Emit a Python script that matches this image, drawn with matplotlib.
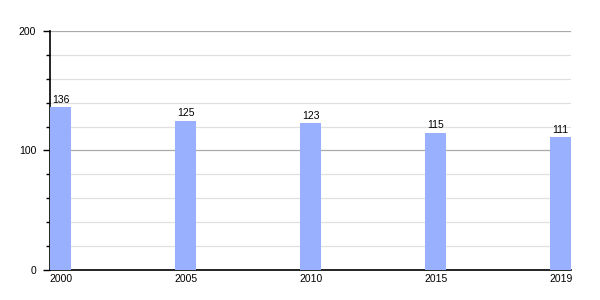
import matplotlib.pyplot as plt
from matplotlib.ticker import MultipleLocator

years = ['2000', '2005', '2010', '2015', '2019']
values = [136, 125, 123, 115, 111]

plt.rcParams['font.family'] = ['Liberation Sans', 'DejaVu Sans']

fig = plt.figure(figsize=(6, 3), dpi=100)
ax = fig.add_axes([0.0833, 0.1, 0.869, 0.7967])

pos = list(range(len(years)))
ax.bar(pos, values, width=0.17, color='#99b0ff', zorder=3)
for x, v in zip(pos, values):
    ax.text(x, v + 2, str(v), ha='center', va='bottom', fontsize=7.5, zorder=4)

ax.set_xlim(-0.085, len(years) - 1 + 0.085)
ax.set_ylim(0, 200)
ax.set_xticks(pos)
ax.set_xticklabels(years)
ax.yaxis.set_major_locator(MultipleLocator(100))
ax.yaxis.set_minor_locator(MultipleLocator(20))

ax.grid(axis='y', which='major', color='#aaaaaa', linewidth=0.9, zorder=1)
ax.grid(axis='y', which='minor', color='#e0e0e0', linewidth=0.9, zorder=1)

for s in ['top', 'right']:
    ax.spines[s].set_visible(False)
ax.spines['left'].set_linewidth(1.2)
ax.spines['bottom'].set_linewidth(1.2)

ax.tick_params(axis='x', length=0, labelsize=7.5, pad=3)
ax.tick_params(axis='y', which='major', length=5, width=1, labelsize=7.5, pad=5)
ax.tick_params(axis='y', which='minor', length=3, width=1)

fig.savefig('out.png', dpi=100)
